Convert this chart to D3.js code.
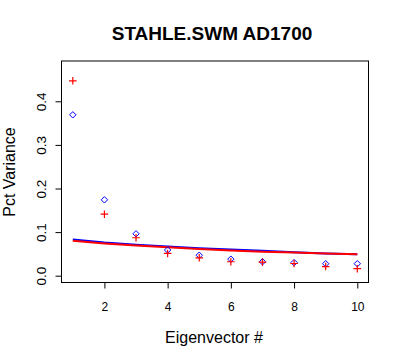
<!DOCTYPE html>
<html><head><meta charset="utf-8">
<script src="https://cdn.jsdelivr.net/npm/d3@7"></script>
<style>body{margin:0;background:#fff}svg{display:block}text{font-family:"Liberation Sans",Arial,sans-serif}</style>
</head><body><svg id="c" width="400" height="360"></svg>
<script>
const eigen = [1,2,3,4,5,6,7,8,9,10];
const blueVals = [0.369,0.174,0.096,0.059,0.047,0.038,0.032,0.030,0.0275,0.0275];
const redVals  = [0.447,0.141,0.087,0.051,0.041,0.032,0.031,0.028,0.021,0.016];
const blueLine = [0.083,0.076,0.071,0.067,0.063,0.060,0.057,0.054,0.051,0.049];
const redLine  = [0.080,0.074,0.069,0.065,0.061,0.058,0.055,0.053,0.051,0.049];
const xTicks = [2,4,6,8,10];
const yTicks = [0,0.1,0.2,0.3,0.4];
const title = "STAHLE.SWM AD1700";

const svg = d3.select("#c");
const L=61.5,R=368.5,T=61,B=282.5;
const x = d3.scaleLinear().domain([1,10]).range([72.8,357.3]);
const y = d3.scaleLinear().domain([0,0.4]).range([275.7,101.3]);

svg.append("rect").attr("x",L).attr("y",T).attr("width",R-L).attr("height",B-T)
  .attr("fill","none").attr("stroke","#000").attr("stroke-width",1);

const xa = svg.append("g").attr("transform",`translate(0,${B})`)
  .call(d3.axisBottom(x).tickValues(xTicks).tickSize(6).tickPadding(14).tickFormat(d3.format("d")));
xa.select(".domain").remove();
xa.selectAll("text").attr("font-size",12).attr("font-family","Liberation Sans, Arial");

const ya = svg.append("g").attr("transform",`translate(${L},0)`)
  .call(d3.axisLeft(y).tickValues(yTicks).tickSize(6).tickFormat(d3.format(".1f")));
ya.select(".domain").remove();
ya.selectAll("text").attr("font-size",13.5).attr("font-family","Liberation Sans, Arial")
  .attr("x",null).attr("dy",null).attr("y",0).attr("text-anchor","middle");
ya.selectAll(".tick text").attr("transform","translate(-16,0) rotate(-90)");

const line = d3.line().x((d,i)=>x(eigen[i])).y(d=>y(d));
svg.append("path").datum(blueLine).attr("d",line).attr("fill","none").attr("stroke","#0000ff").attr("stroke-width",2);
svg.append("path").datum(redLine).attr("d",line).attr("fill","none").attr("stroke","#ff0000").attr("stroke-width",2);

svg.append("g").selectAll("path").data(blueVals).join("path")
  .attr("d",(d,i)=>{const cx=x(eigen[i]),cy=y(d),r=3.2;return `M${cx},${cy-r}L${cx+r},${cy}L${cx},${cy+r}L${cx-r},${cy}Z`;})
  .attr("fill","none").attr("stroke","#0000ff").attr("stroke-width",1);
svg.append("g").selectAll("path").data(redVals).join("path")
  .attr("d",(d,i)=>{const cx=x(eigen[i]),cy=y(d),r=3.8;return `M${cx-r},${cy}H${cx+r}M${cx},${cy-r}V${cy+r}`;})
  .attr("fill","none").attr("stroke","#ff0000").attr("stroke-width",1.2);

svg.append("text").attr("x",212).attr("y",40).attr("text-anchor","middle")
  .attr("font-size",19).attr("font-weight","bold").text(title);
svg.append("text").attr("x",214).attr("y",343).attr("text-anchor","middle")
  .attr("font-size",16).text("Eigenvector #");
svg.append("text").attr("transform","translate(15,172) rotate(-90)").attr("text-anchor","middle")
  .attr("font-size",16).text("Pct Variance");
</script></body></html>
